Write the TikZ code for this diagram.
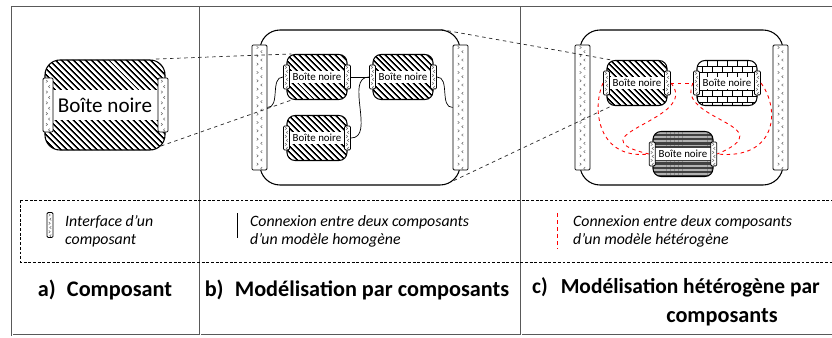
\documentclass[tikz,border=0pt]{standalone}
\usepackage{fontspec}
\setmainfont{Carlito}
\usetikzlibrary{calc,patterns,patterns.meta,positioning}
\newcommand{\boite}[3]{%
  \node[blk,#3] (#1) [#2] {};
  \node[lbl] (#1t) at (#1) {Boîte noire};
  \node[iface={3}{1.4},small iface] (#1l) at (#1.west) {};
  \node[iface={3}{1.4},small iface] (#1r) at (#1.east) {};}

\begin{document}
\begin{tikzpicture}[x=0.03cm,y=-0.03cm,node distance=2.58cm,
  blk/.style={rectangle,draw,line width=0.9pt,rounded corners=0.24cm,inner sep=0pt,
    minimum width=1.8cm,minimum height=1.35cm},
  hatch/.style={pattern={Lines[angle=-45,distance=4pt,line width=1.7pt]}},
  brick/.style={fill=white,path picture={\foreach \r in {0,...,8}{
      \draw[line width=0.5pt,sharp corners] ($(path picture bounding box.north west)+(0,\r*6)$) -- ++(70,0);
      \foreach \c in {0,...,6}
        \draw[line width=0.5pt,sharp corners] ($(path picture bounding box.north west)+({\c*10+mod(\r,2)*5},{\r*6})$) -- ++(0,6);}}},
  stripe/.style={preaction={fill=black!75},pattern={Lines[angle=0,distance=3.5pt,line width=1.3pt]},pattern color=black!30},
  lbl/.style={fill=white,inner sep=0pt,minimum width=1.8cm,minimum height=0.36cm,font=\fontsize{9.3}{10}\selectfont},
  iface/.style 2 args={rectangle,draw,fill=white,rounded corners=1pt,line width=0.7pt,inner sep=0pt,
    path picture={\foreach \k in {1,...,#1}{
      \draw[black!60,line width=0.4pt,sharp corners]
        ($(path picture bounding box.north)!{(\k-0.7)/#1}!(path picture bounding box.south)$) ++(-#2,-1.3) -- ++(1.6,1.3) -- ++(-1.6,1.3)
        ($(path picture bounding box.north)!{(\k-0.2)/#1}!(path picture bounding box.south)$) ++(#2,-1.3) -- ++(-1.6,1.3) -- ++(1.6,1.3);}}},
  small iface/.style={minimum width=0.18cm,minimum height=0.72cm},
  tall iface/.style={minimum width=0.45cm,minimum height=3.75cm},
  outer/.style={rectangle,draw,line width=0.9pt,rounded corners=0.6cm,inner sep=0pt,minimum height=4.65cm},
  conn/.style={line width=0.6pt},
  hetero/.style={red,dashed,line width=0.75pt},
  zoomline/.style={dashed,line width=0.6pt,black!85},
  panel/.style={draw=gray!70!black,double=white,double distance=0.7pt,line width=0.45pt},
  legend/.style={font=\fontsize{13.5}{15.5}\selectfont\itshape,align=left,anchor=west,inner sep=0pt},
  capt/.style={font=\fontsize{19}{22}\selectfont\bfseries,inner sep=0pt}]

  \useasboundingbox (0,0) rectangle (832,338);
  \clip (0,0) rectangle (832,338);
  \draw[panel] (12,7) rectangle (850,335);
  \draw[panel] (200,7) -- (200,335);
  \draw[panel] (521,7) -- (521,335);

  \node[blk,hatch] (a1) [at={(105,105)},minimum width=3.6cm,minimum height=2.7cm,rounded corners=0.45cm] {};
  \node[lbl] (a1t) at (a1) [minimum width=3.6cm,minimum height=0.9cm,font=\fontsize{18}{20}\selectfont] {Boîte noire};
  \node[iface={5}{2},minimum width=0.3cm,minimum height=1.62cm] (a1l) at (48,105) {};
  \node[iface={5}{2},minimum width=0.3cm,minimum height=1.62cm] (a1r) at (163,105) {};

  \node[outer] (bo) [at={(360,107.5)},minimum width=6cm] {};
  \node[iface={15}{2.8},tall iface] (bL) at (bo.west) {};
  \node[iface={15}{2.8},tall iface] (bR) at (bo.east) {};
  \boite{b1}{at={(317,77)}}{hatch}
  \boite{b2}{right of=b1}{hatch}
  \boite{b3}{below of=b1,node distance=1.83cm}{hatch}

  \node[outer] (co) [at={(681.5,107.5)},minimum width=6.09cm] {};
  \node[iface={15}{2.8},tall iface] (cL) [xshift=0.09cm] at (co.west) {};
  \node[iface={15}{2.8},tall iface] (cR) [xshift=-0.09cm] at (co.east) {};
  \boite{c1}{at={(637,83)}}{hatch}
  \boite{c2}{right of=c1,node distance=2.7cm}{brick}
  \boite{c3}{at={(683,154)}}{stripe}

  \draw[conn] (bL.east) to[out=0,in=180] (b1l.west);
  \draw[conn] (b1r.east) -- (b2l.west);
  \draw[conn] (b3r.east) to[out=0,in=180] (b2l.west);
  \draw[conn] (b2r.east) to[out=0,in=180] (bR.west);

  \draw[hetero] (c1r.east) -- (c2l.west);
  \draw[hetero] (c1r.east) .. controls +(31,37) and +(-80,-19) .. (c3l.west);
  \draw[hetero] (c1l.west) .. controls +(-12,27) and +(-50,6) .. (c3l.west);
  \draw[hetero] (c2l.west) .. controls +(-19,37) and +(69,-29) .. (c3r.east);
  \draw[hetero] (c2r.east) .. controls +(20,27) and +(59,6) .. (c3r.east);

  \draw[zoomline] ([xshift=-0.3cm]a1.north east) -- ([xshift=0.15cm]b1.north west);
  \draw[zoomline] ([shift={(-0.15cm,0.15cm)}]a1.south east) -- ([xshift=0.15cm]b1.south west);
  \draw[zoomline] ([xshift=-0.6cm]bo.north east) -- ([xshift=0.15cm]c1.north west);
  \draw[zoomline] ([shift={(-0.2cm,0.15cm)}]bo.south east) -- ([xshift=0.15cm]c1.south west);

  \draw[dashed,line width=0.6pt,dash pattern=on 2.5pt off 1.5pt] (20,200) rectangle (850,262);
  \node[iface={3}{1.3},minimum width=0.18cm,minimum height=0.75cm] (li) at (50,225) {};
  \node[legend] (t1) at (65,231) {Interface d’un\\composant};
  \coordinate (l2a) at (237,213);
  \coordinate (l2b) at (237,238);
  \draw[conn] (l2a) -- (l2b);
  \node[legend] (t2) at (250,231) {Connexion entre deux composants\\d’un modèle homogène};
  \coordinate (l3a) at (557.5,213);
  \coordinate (l3b) at (557.5,249);
  \draw[hetero,line width=1pt] (l3a) -- (l3b);
  \node[legend] (t3) at (573,231) {Connexion entre deux composants\\d’un modèle hétérogène};

  \node[capt] (ca) at (105,290) {a)\enspace Composant};
  \node[capt] (cb) at (357,290) {b)\enspace Modélisation par composants};
  \node[capt,anchor=west,font=\fontsize{18.3}{22}\selectfont\bfseries] (cc) at (532,287) {c)\hspace{0.6em}Modélisation hétérogène par};
  \node[capt] (cc2) at (722,317) {composants};
\end{tikzpicture}
\end{document}
